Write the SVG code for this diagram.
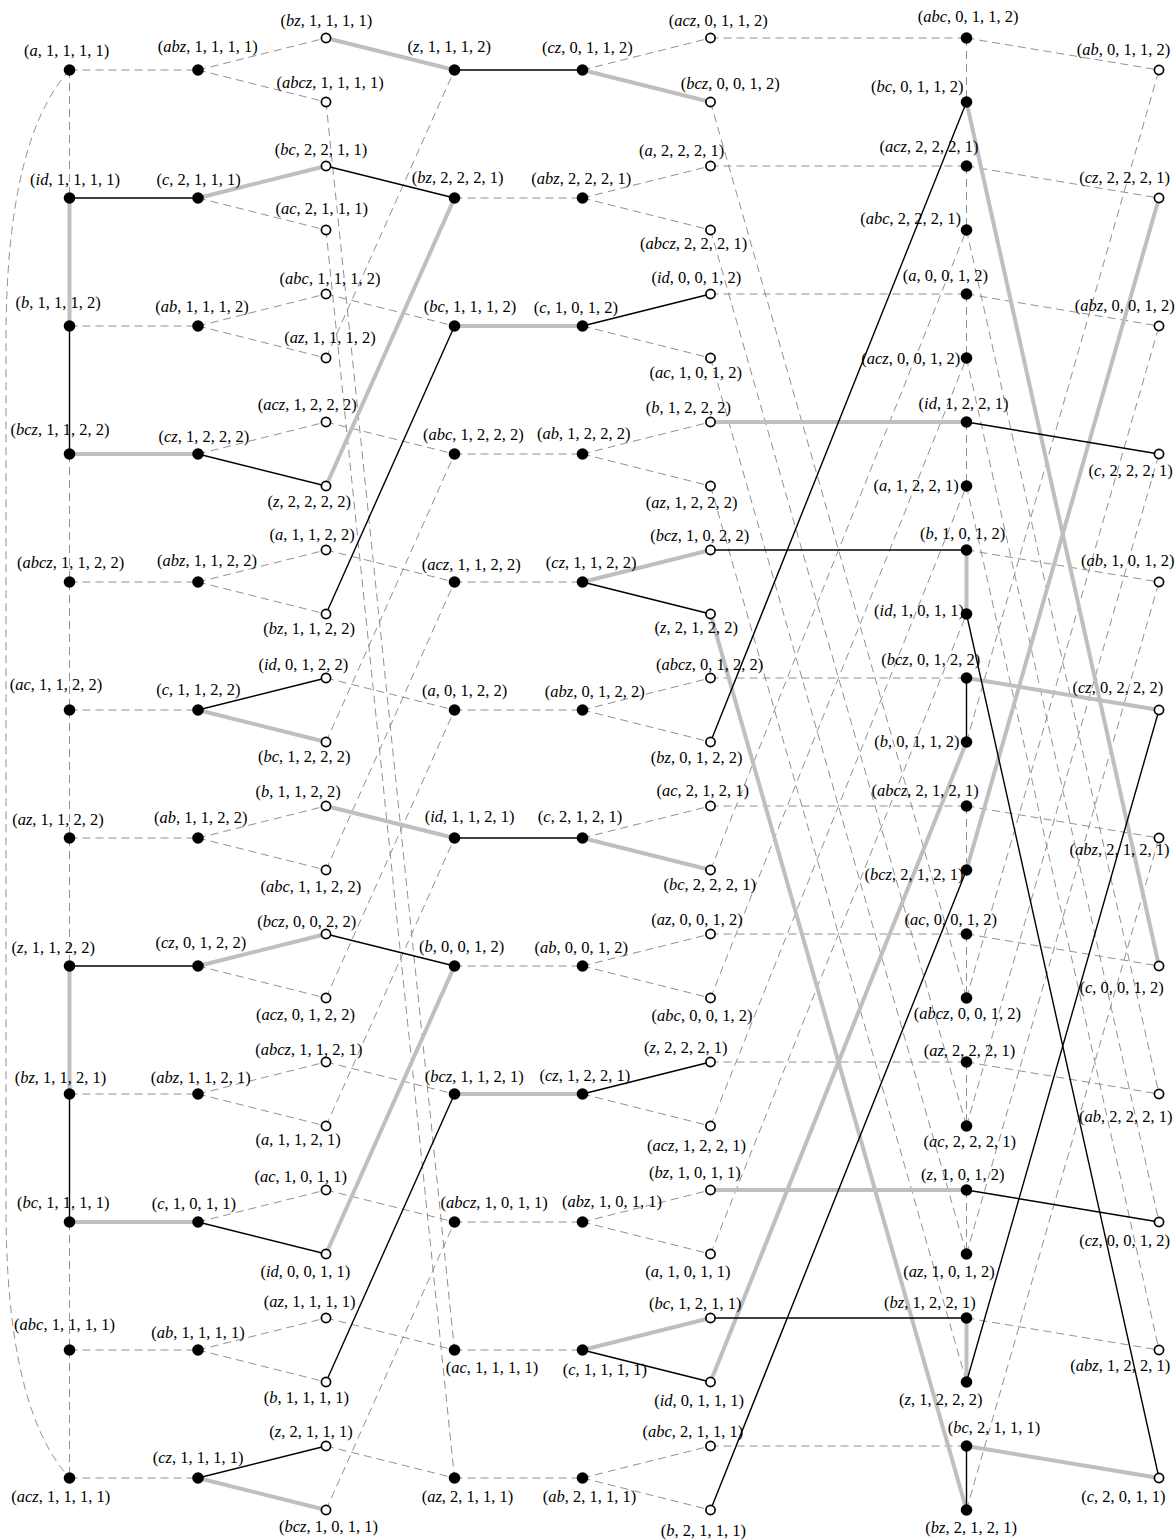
<svg xmlns="http://www.w3.org/2000/svg" width="1175" height="1540" viewBox="0 0 1175 1540">
<style>
.d line,.d path{stroke:#858585;stroke-width:0.9;stroke-dasharray:8 5;fill:none}
.t line{stroke:#bfbfbf;stroke-width:4;fill:none}
.s line{stroke:#000;stroke-width:1.4;fill:none}
.f{fill:#000}
.o{fill:#fff;stroke:#000;stroke-width:1.7}
text{font-family:"Liberation Serif","Times New Roman",serif;font-size:16.5px;text-anchor:middle;fill:#000}
.i{font-style:italic}
</style>
<rect width="1175" height="1540" fill="#fff"/>
<g id="connectors">
<g class="d">
<line x1="69.5" y1="70" x2="69.5" y2="198"/>
<line x1="69.5" y1="454" x2="69.5" y2="582"/>
<line x1="69.5" y1="582" x2="69.5" y2="710"/>
<line x1="69.5" y1="710" x2="69.5" y2="838"/>
<line x1="69.5" y1="838" x2="69.5" y2="966"/>
<line x1="69.5" y1="1222" x2="69.5" y2="1350"/>
<line x1="69.5" y1="1350" x2="69.5" y2="1478"/>
<path d="M69.5,70 Q6,140 6,340 L6,1208 Q6,1408 69.5,1478"/>
<line x1="69.5" y1="70" x2="198" y2="70"/>
<line x1="69.5" y1="326" x2="198" y2="326"/>
<line x1="69.5" y1="582" x2="198" y2="582"/>
<line x1="69.5" y1="710" x2="198" y2="710"/>
<line x1="69.5" y1="838" x2="198" y2="838"/>
<line x1="69.5" y1="1094" x2="198" y2="1094"/>
<line x1="69.5" y1="1350" x2="198" y2="1350"/>
<line x1="69.5" y1="1478" x2="198" y2="1478"/>
<line x1="198" y1="70" x2="326" y2="38"/>
<line x1="198" y1="326" x2="326" y2="294"/>
<line x1="198" y1="454" x2="326" y2="422"/>
<line x1="198" y1="582" x2="326" y2="550"/>
<line x1="198" y1="838" x2="326" y2="806"/>
<line x1="198" y1="1094" x2="326" y2="1062"/>
<line x1="198" y1="1222" x2="326" y2="1190"/>
<line x1="198" y1="1350" x2="326" y2="1318"/>
<line x1="198" y1="70" x2="326" y2="102"/>
<line x1="198" y1="198" x2="326" y2="230"/>
<line x1="198" y1="326" x2="326" y2="358"/>
<line x1="198" y1="582" x2="326" y2="614"/>
<line x1="198" y1="838" x2="326" y2="870"/>
<line x1="198" y1="966" x2="326" y2="998"/>
<line x1="198" y1="1094" x2="326" y2="1126"/>
<line x1="198" y1="1350" x2="326" y2="1382"/>
<line x1="326" y1="294" x2="454.5" y2="326"/>
<line x1="326" y1="422" x2="454.5" y2="454"/>
<line x1="326" y1="550" x2="454.5" y2="582"/>
<line x1="326" y1="678" x2="454.5" y2="710"/>
<line x1="326" y1="1062" x2="454.5" y2="1094"/>
<line x1="326" y1="1190" x2="454.5" y2="1222"/>
<line x1="326" y1="1318" x2="454.5" y2="1350"/>
<line x1="326" y1="1446" x2="454.5" y2="1478"/>
<line x1="326" y1="102" x2="454.5" y2="1350"/>
<line x1="326" y1="230" x2="454.5" y2="1478"/>
<line x1="326" y1="358" x2="454.5" y2="70"/>
<line x1="326" y1="742" x2="454.5" y2="454"/>
<line x1="326" y1="870" x2="454.5" y2="582"/>
<line x1="326" y1="998" x2="454.5" y2="710"/>
<line x1="326" y1="1126" x2="454.5" y2="838"/>
<line x1="326" y1="1510" x2="454.5" y2="1222"/>
<line x1="454.5" y1="198" x2="582.5" y2="198"/>
<line x1="454.5" y1="454" x2="582.5" y2="454"/>
<line x1="454.5" y1="582" x2="582.5" y2="582"/>
<line x1="454.5" y1="710" x2="582.5" y2="710"/>
<line x1="454.5" y1="966" x2="582.5" y2="966"/>
<line x1="454.5" y1="1222" x2="582.5" y2="1222"/>
<line x1="454.5" y1="1350" x2="582.5" y2="1350"/>
<line x1="454.5" y1="1478" x2="582.5" y2="1478"/>
<line x1="582.5" y1="70" x2="710.5" y2="38"/>
<line x1="582.5" y1="198" x2="710.5" y2="166"/>
<line x1="582.5" y1="454" x2="710.5" y2="422"/>
<line x1="582.5" y1="710" x2="710.5" y2="678"/>
<line x1="582.5" y1="838" x2="710.5" y2="806"/>
<line x1="582.5" y1="966" x2="710.5" y2="934"/>
<line x1="582.5" y1="1222" x2="710.5" y2="1190"/>
<line x1="582.5" y1="1478" x2="710.5" y2="1446"/>
<line x1="582.5" y1="198" x2="710.5" y2="230"/>
<line x1="582.5" y1="326" x2="710.5" y2="358"/>
<line x1="582.5" y1="454" x2="710.5" y2="486"/>
<line x1="582.5" y1="710" x2="710.5" y2="742"/>
<line x1="582.5" y1="966" x2="710.5" y2="998"/>
<line x1="582.5" y1="1094" x2="710.5" y2="1126"/>
<line x1="582.5" y1="1222" x2="710.5" y2="1254"/>
<line x1="582.5" y1="1478" x2="710.5" y2="1510"/>
<line x1="710.5" y1="38" x2="966.5" y2="38"/>
<line x1="710.5" y1="166" x2="966.5" y2="166"/>
<line x1="710.5" y1="294" x2="966.5" y2="294"/>
<line x1="710.5" y1="678" x2="966.5" y2="678"/>
<line x1="710.5" y1="806" x2="966.5" y2="806"/>
<line x1="710.5" y1="934" x2="966.5" y2="934"/>
<line x1="710.5" y1="1062" x2="966.5" y2="1062"/>
<line x1="710.5" y1="1446" x2="966.5" y2="1446"/>
<line x1="710.5" y1="102" x2="966.5" y2="998"/>
<line x1="710.5" y1="230" x2="966.5" y2="1126"/>
<line x1="710.5" y1="358" x2="966.5" y2="1254"/>
<line x1="710.5" y1="486" x2="966.5" y2="1382"/>
<line x1="710.5" y1="870" x2="966.5" y2="230"/>
<line x1="710.5" y1="998" x2="966.5" y2="358"/>
<line x1="710.5" y1="1126" x2="966.5" y2="486"/>
<line x1="710.5" y1="1254" x2="966.5" y2="614"/>
<line x1="966.5" y1="38" x2="966.5" y2="102"/>
<line x1="966.5" y1="166" x2="966.5" y2="230"/>
<line x1="966.5" y1="294" x2="966.5" y2="358"/>
<line x1="966.5" y1="422" x2="966.5" y2="486"/>
<line x1="966.5" y1="806" x2="966.5" y2="870"/>
<line x1="966.5" y1="934" x2="966.5" y2="998"/>
<line x1="966.5" y1="1062" x2="966.5" y2="1126"/>
<line x1="966.5" y1="1190" x2="966.5" y2="1254"/>
<line x1="966.5" y1="38" x2="1159" y2="70"/>
<line x1="966.5" y1="166" x2="1159" y2="198"/>
<line x1="966.5" y1="294" x2="1159" y2="326"/>
<line x1="966.5" y1="550" x2="1159" y2="582"/>
<line x1="966.5" y1="806" x2="1159" y2="838"/>
<line x1="966.5" y1="934" x2="1159" y2="966"/>
<line x1="966.5" y1="1062" x2="1159" y2="1094"/>
<line x1="966.5" y1="1318" x2="1159" y2="1350"/>
<line x1="966.5" y1="230" x2="1159" y2="1094"/>
<line x1="966.5" y1="358" x2="1159" y2="1222"/>
<line x1="966.5" y1="486" x2="1159" y2="1350"/>
<line x1="966.5" y1="742" x2="1159" y2="70"/>
<line x1="966.5" y1="998" x2="1159" y2="326"/>
<line x1="966.5" y1="1126" x2="1159" y2="454"/>
<line x1="966.5" y1="1254" x2="1159" y2="582"/>
<line x1="966.5" y1="1510" x2="1159" y2="838"/>
</g>
<g class="t">
<line x1="69.5" y1="198" x2="69.5" y2="326"/>
<line x1="69.5" y1="966" x2="69.5" y2="1094"/>
<line x1="69.5" y1="454" x2="198" y2="454"/>
<line x1="69.5" y1="1222" x2="198" y2="1222"/>
<line x1="198" y1="198" x2="326" y2="166"/>
<line x1="198" y1="966" x2="326" y2="934"/>
<line x1="198" y1="710" x2="326" y2="742"/>
<line x1="198" y1="1478" x2="326" y2="1510"/>
<line x1="326" y1="38" x2="454.5" y2="70"/>
<line x1="326" y1="806" x2="454.5" y2="838"/>
<line x1="326" y1="486" x2="454.5" y2="198"/>
<line x1="326" y1="1254" x2="454.5" y2="966"/>
<line x1="454.5" y1="326" x2="582.5" y2="326"/>
<line x1="454.5" y1="1094" x2="582.5" y2="1094"/>
<line x1="582.5" y1="582" x2="710.5" y2="550"/>
<line x1="582.5" y1="1350" x2="710.5" y2="1318"/>
<line x1="582.5" y1="70" x2="710.5" y2="102"/>
<line x1="582.5" y1="838" x2="710.5" y2="870"/>
<line x1="710.5" y1="422" x2="966.5" y2="422"/>
<line x1="710.5" y1="1190" x2="966.5" y2="1190"/>
<line x1="710.5" y1="614" x2="966.5" y2="1510"/>
<line x1="710.5" y1="1382" x2="966.5" y2="742"/>
<line x1="966.5" y1="550" x2="966.5" y2="614"/>
<line x1="966.5" y1="1318" x2="966.5" y2="1382"/>
<line x1="966.5" y1="678" x2="1159" y2="710"/>
<line x1="966.5" y1="1446" x2="1159" y2="1478"/>
<line x1="966.5" y1="102" x2="1159" y2="966"/>
<line x1="966.5" y1="870" x2="1159" y2="198"/>
</g>
<g class="s">
<line x1="69.5" y1="326" x2="69.5" y2="454"/>
<line x1="69.5" y1="1094" x2="69.5" y2="1222"/>
<line x1="69.5" y1="198" x2="198" y2="198"/>
<line x1="69.5" y1="966" x2="198" y2="966"/>
<line x1="198" y1="710" x2="326" y2="678"/>
<line x1="198" y1="1478" x2="326" y2="1446"/>
<line x1="198" y1="454" x2="326" y2="486"/>
<line x1="198" y1="1222" x2="326" y2="1254"/>
<line x1="326" y1="166" x2="454.5" y2="198"/>
<line x1="326" y1="934" x2="454.5" y2="966"/>
<line x1="326" y1="614" x2="454.5" y2="326"/>
<line x1="326" y1="1382" x2="454.5" y2="1094"/>
<line x1="454.5" y1="70" x2="582.5" y2="70"/>
<line x1="454.5" y1="838" x2="582.5" y2="838"/>
<line x1="582.5" y1="326" x2="710.5" y2="294"/>
<line x1="582.5" y1="1094" x2="710.5" y2="1062"/>
<line x1="582.5" y1="582" x2="710.5" y2="614"/>
<line x1="582.5" y1="1350" x2="710.5" y2="1382"/>
<line x1="710.5" y1="550" x2="966.5" y2="550"/>
<line x1="710.5" y1="1318" x2="966.5" y2="1318"/>
<line x1="710.5" y1="742" x2="966.5" y2="102"/>
<line x1="710.5" y1="1510" x2="966.5" y2="870"/>
<line x1="966.5" y1="678" x2="966.5" y2="742"/>
<line x1="966.5" y1="1446" x2="966.5" y2="1510"/>
<line x1="966.5" y1="422" x2="1159" y2="454"/>
<line x1="966.5" y1="1190" x2="1159" y2="1222"/>
<line x1="966.5" y1="614" x2="1159" y2="1478"/>
<line x1="966.5" y1="1382" x2="1159" y2="710"/>
</g>
</g>
<g id="nodes">
<g id="n0_0"><circle class="f" cx="69.5" cy="70" r="5.8"/><text x="66.7" y="56">(<tspan class="i">a</tspan>, 1, 1, 1, 1)</text></g>
<g id="n0_1"><circle class="f" cx="69.5" cy="198" r="5.8"/><text x="75" y="185">(<tspan class="i">id</tspan>, 1, 1, 1, 1)</text></g>
<g id="n0_2"><circle class="f" cx="69.5" cy="326" r="5.8"/><text x="58" y="308">(<tspan class="i">b</tspan>, 1, 1, 1, 2)</text></g>
<g id="n0_3"><circle class="f" cx="69.5" cy="454" r="5.8"/><text x="60" y="435">(<tspan class="i">bcz</tspan>, 1, 1, 2, 2)</text></g>
<g id="n0_4"><circle class="f" cx="69.5" cy="582" r="5.8"/><text x="70.5" y="567.7">(<tspan class="i">abcz</tspan>, 1, 1, 2, 2)</text></g>
<g id="n0_5"><circle class="f" cx="69.5" cy="710" r="5.8"/><text x="56" y="690">(<tspan class="i">ac</tspan>, 1, 1, 2, 2)</text></g>
<g id="n0_6"><circle class="f" cx="69.5" cy="838" r="5.8"/><text x="58" y="825">(<tspan class="i">az</tspan>, 1, 1, 2, 2)</text></g>
<g id="n0_7"><circle class="f" cx="69.5" cy="966" r="5.8"/><text x="53.3" y="952.7">(<tspan class="i">z</tspan>, 1, 1, 2, 2)</text></g>
<g id="n0_8"><circle class="f" cx="69.5" cy="1094" r="5.8"/><text x="60.5" y="1083.3">(<tspan class="i">bz</tspan>, 1, 1, 2, 1)</text></g>
<g id="n0_9"><circle class="f" cx="69.5" cy="1222" r="5.8"/><text x="63.3" y="1208.3">(<tspan class="i">bc</tspan>, 1, 1, 1, 1)</text></g>
<g id="n0_10"><circle class="f" cx="69.5" cy="1350" r="5.8"/><text x="64.5" y="1330">(<tspan class="i">abc</tspan>, 1, 1, 1, 1)</text></g>
<g id="n0_11"><circle class="f" cx="69.5" cy="1478" r="5.8"/><text x="60.7" y="1501.7">(<tspan class="i">acz</tspan>, 1, 1, 1, 1)</text></g>
<g id="n1_0"><circle class="f" cx="198" cy="70" r="5.8"/><text x="207.8" y="51.7">(<tspan class="i">abz</tspan>, 1, 1, 1, 1)</text></g>
<g id="n1_1"><circle class="f" cx="198" cy="198" r="5.8"/><text x="198.7" y="185">(<tspan class="i">c</tspan>, 2, 1, 1, 1)</text></g>
<g id="n1_2"><circle class="f" cx="198" cy="326" r="5.8"/><text x="202" y="311.7">(<tspan class="i">ab</tspan>, 1, 1, 1, 2)</text></g>
<g id="n1_3"><circle class="f" cx="198" cy="454" r="5.8"/><text x="203.8" y="442.3">(<tspan class="i">cz</tspan>, 1, 2, 2, 2)</text></g>
<g id="n1_4"><circle class="f" cx="198" cy="582" r="5.8"/><text x="207" y="566">(<tspan class="i">abz</tspan>, 1, 1, 2, 2)</text></g>
<g id="n1_5"><circle class="f" cx="198" cy="710" r="5.8"/><text x="198.3" y="695">(<tspan class="i">c</tspan>, 1, 1, 2, 2)</text></g>
<g id="n1_6"><circle class="f" cx="198" cy="838" r="5.8"/><text x="200.8" y="823.3">(<tspan class="i">ab</tspan>, 1, 1, 2, 2)</text></g>
<g id="n1_7"><circle class="f" cx="198" cy="966" r="5.8"/><text x="200.8" y="948.3">(<tspan class="i">cz</tspan>, 0, 1, 2, 2)</text></g>
<g id="n1_8"><circle class="f" cx="198" cy="1094" r="5.8"/><text x="200.7" y="1083.3">(<tspan class="i">abz</tspan>, 1, 1, 2, 1)</text></g>
<g id="n1_9"><circle class="f" cx="198" cy="1222" r="5.8"/><text x="193.8" y="1209">(<tspan class="i">c</tspan>, 1, 0, 1, 1)</text></g>
<g id="n1_10"><circle class="f" cx="198" cy="1350" r="5.8"/><text x="198" y="1337.7">(<tspan class="i">ab</tspan>, 1, 1, 1, 1)</text></g>
<g id="n1_11"><circle class="f" cx="198" cy="1478" r="5.8"/><text x="198" y="1463.3">(<tspan class="i">cz</tspan>, 1, 1, 1, 1)</text></g>
<g id="n2_0"><circle class="o" cx="326" cy="38" r="4.6"/><text x="326.3" y="26">(<tspan class="i">bz</tspan>, 1, 1, 1, 1)</text></g>
<g id="n2_1"><circle class="o" cx="326" cy="102" r="4.6"/><text x="330" y="88">(<tspan class="i">abcz</tspan>, 1, 1, 1, 1)</text></g>
<g id="n2_2"><circle class="o" cx="326" cy="166" r="4.6"/><text x="321" y="155">(<tspan class="i">bc</tspan>, 2, 2, 1, 1)</text></g>
<g id="n2_3"><circle class="o" cx="326" cy="230" r="4.6"/><text x="321.8" y="214">(<tspan class="i">ac</tspan>, 2, 1, 1, 1)</text></g>
<g id="n2_4"><circle class="o" cx="326" cy="294" r="4.6"/><text x="330" y="284">(<tspan class="i">abc</tspan>, 1, 1, 1, 2)</text></g>
<g id="n2_5"><circle class="o" cx="326" cy="358" r="4.6"/><text x="330" y="342.7">(<tspan class="i">az</tspan>, 1, 1, 1, 2)</text></g>
<g id="n2_6"><circle class="o" cx="326" cy="422" r="4.6"/><text x="307.3" y="410">(<tspan class="i">acz</tspan>, 1, 2, 2, 2)</text></g>
<g id="n2_7"><circle class="o" cx="326" cy="486" r="4.6"/><text x="309.3" y="506.7">(<tspan class="i">z</tspan>, 2, 2, 2, 2)</text></g>
<g id="n2_8"><circle class="o" cx="326" cy="550" r="4.6"/><text x="312.2" y="540.3">(<tspan class="i">a</tspan>, 1, 1, 2, 2)</text></g>
<g id="n2_9"><circle class="o" cx="326" cy="614" r="4.6"/><text x="309.2" y="634.3">(<tspan class="i">bz</tspan>, 1, 1, 2, 2)</text></g>
<g id="n2_10"><circle class="o" cx="326" cy="678" r="4.6"/><text x="303.3" y="670">(<tspan class="i">id</tspan>, 0, 1, 2, 2)</text></g>
<g id="n2_11"><circle class="o" cx="326" cy="742" r="4.6"/><text x="304.2" y="761.7">(<tspan class="i">bc</tspan>, 1, 2, 2, 2)</text></g>
<g id="n2_12"><circle class="o" cx="326" cy="806" r="4.6"/><text x="298" y="796.7">(<tspan class="i">b</tspan>, 1, 1, 2, 2)</text></g>
<g id="n2_13"><circle class="o" cx="326" cy="870" r="4.6"/><text x="310.8" y="891.7">(<tspan class="i">abc</tspan>, 1, 1, 2, 2)</text></g>
<g id="n2_14"><circle class="o" cx="326" cy="934" r="4.6"/><text x="306.7" y="927.3">(<tspan class="i">bcz</tspan>, 0, 0, 2, 2)</text></g>
<g id="n2_15"><circle class="o" cx="326" cy="998" r="4.6"/><text x="305.5" y="1020">(<tspan class="i">acz</tspan>, 0, 1, 2, 2)</text></g>
<g id="n2_16"><circle class="o" cx="326" cy="1062" r="4.6"/><text x="308.8" y="1055">(<tspan class="i">abcz</tspan>, 1, 1, 2, 1)</text></g>
<g id="n2_17"><circle class="o" cx="326" cy="1126" r="4.6"/><text x="298" y="1145">(<tspan class="i">a</tspan>, 1, 1, 2, 1)</text></g>
<g id="n2_18"><circle class="o" cx="326" cy="1190" r="4.6"/><text x="300.8" y="1181.7">(<tspan class="i">ac</tspan>, 1, 0, 1, 1)</text></g>
<g id="n2_19"><circle class="o" cx="326" cy="1254" r="4.6"/><text x="305.3" y="1276.7">(<tspan class="i">id</tspan>, 0, 0, 1, 1)</text></g>
<g id="n2_20"><circle class="o" cx="326" cy="1318" r="4.6"/><text x="309.7" y="1306.7">(<tspan class="i">az</tspan>, 1, 1, 1, 1)</text></g>
<g id="n2_21"><circle class="o" cx="326" cy="1382" r="4.6"/><text x="306.3" y="1403.3">(<tspan class="i">b</tspan>, 1, 1, 1, 1)</text></g>
<g id="n2_22"><circle class="o" cx="326" cy="1446" r="4.6"/><text x="311" y="1436.7">(<tspan class="i">z</tspan>, 2, 1, 1, 1)</text></g>
<g id="n2_23"><circle class="o" cx="326" cy="1510" r="4.6"/><text x="328.5" y="1531.7">(<tspan class="i">bcz</tspan>, 1, 0, 1, 1)</text></g>
<g id="n3_0"><circle class="f" cx="454.5" cy="70" r="5.8"/><text x="449.2" y="51.7">(<tspan class="i">z</tspan>, 1, 1, 1, 2)</text></g>
<g id="n3_1"><circle class="f" cx="454.5" cy="198" r="5.8"/><text x="457.7" y="183.3">(<tspan class="i">bz</tspan>, 2, 2, 2, 1)</text></g>
<g id="n3_2"><circle class="f" cx="454.5" cy="326" r="5.8"/><text x="470" y="312.3">(<tspan class="i">bc</tspan>, 1, 1, 1, 2)</text></g>
<g id="n3_3"><circle class="f" cx="454.5" cy="454" r="5.8"/><text x="473.3" y="440">(<tspan class="i">abc</tspan>, 1, 2, 2, 2)</text></g>
<g id="n3_4"><circle class="f" cx="454.5" cy="582" r="5.8"/><text x="471.3" y="570">(<tspan class="i">acz</tspan>, 1, 1, 2, 2)</text></g>
<g id="n3_5"><circle class="f" cx="454.5" cy="710" r="5.8"/><text x="464.5" y="695.7">(<tspan class="i">a</tspan>, 0, 1, 2, 2)</text></g>
<g id="n3_6"><circle class="f" cx="454.5" cy="838" r="5.8"/><text x="469.7" y="821.7">(<tspan class="i">id</tspan>, 1, 1, 2, 1)</text></g>
<g id="n3_7"><circle class="f" cx="454.5" cy="966" r="5.8"/><text x="461.7" y="951.7">(<tspan class="i">b</tspan>, 0, 0, 1, 2)</text></g>
<g id="n3_8"><circle class="f" cx="454.5" cy="1094" r="5.8"/><text x="474.2" y="1081.7">(<tspan class="i">bcz</tspan>, 1, 1, 2, 1)</text></g>
<g id="n3_9"><circle class="f" cx="454.5" cy="1222" r="5.8"/><text x="494.2" y="1208.3">(<tspan class="i">abcz</tspan>, 1, 0, 1, 1)</text></g>
<g id="n3_10"><circle class="f" cx="454.5" cy="1350" r="5.8"/><text x="492" y="1373.3">(<tspan class="i">ac</tspan>, 1, 1, 1, 1)</text></g>
<g id="n3_11"><circle class="f" cx="454.5" cy="1478" r="5.8"/><text x="467.5" y="1502.3">(<tspan class="i">az</tspan>, 2, 1, 1, 1)</text></g>
<g id="n4_0"><circle class="f" cx="582.5" cy="70" r="5.8"/><text x="587.3" y="53.3">(<tspan class="i">cz</tspan>, 0, 1, 1, 2)</text></g>
<g id="n4_1"><circle class="f" cx="582.5" cy="198" r="5.8"/><text x="581.3" y="184.3">(<tspan class="i">abz</tspan>, 2, 2, 2, 1)</text></g>
<g id="n4_2"><circle class="f" cx="582.5" cy="326" r="5.8"/><text x="575.8" y="312.7">(<tspan class="i">c</tspan>, 1, 0, 1, 2)</text></g>
<g id="n4_3"><circle class="f" cx="582.5" cy="454" r="5.8"/><text x="583.7" y="439.3">(<tspan class="i">ab</tspan>, 1, 2, 2, 2)</text></g>
<g id="n4_4"><circle class="f" cx="582.5" cy="582" r="5.8"/><text x="591.2" y="567.7">(<tspan class="i">cz</tspan>, 1, 1, 2, 2)</text></g>
<g id="n4_5"><circle class="f" cx="582.5" cy="710" r="5.8"/><text x="594.7" y="696.7">(<tspan class="i">abz</tspan>, 0, 1, 2, 2)</text></g>
<g id="n4_6"><circle class="f" cx="582.5" cy="838" r="5.8"/><text x="580" y="821.7">(<tspan class="i">c</tspan>, 2, 1, 2, 1)</text></g>
<g id="n4_7"><circle class="f" cx="582.5" cy="966" r="5.8"/><text x="581.2" y="953.3">(<tspan class="i">ab</tspan>, 0, 0, 1, 2)</text></g>
<g id="n4_8"><circle class="f" cx="582.5" cy="1094" r="5.8"/><text x="584.8" y="1080.7">(<tspan class="i">cz</tspan>, 1, 2, 2, 1)</text></g>
<g id="n4_9"><circle class="f" cx="582.5" cy="1222" r="5.8"/><text x="612" y="1206.7">(<tspan class="i">abz</tspan>, 1, 0, 1, 1)</text></g>
<g id="n4_10"><circle class="f" cx="582.5" cy="1350" r="5.8"/><text x="604.8" y="1375">(<tspan class="i">c</tspan>, 1, 1, 1, 1)</text></g>
<g id="n4_11"><circle class="f" cx="582.5" cy="1478" r="5.8"/><text x="589.5" y="1501.7">(<tspan class="i">ab</tspan>, 2, 1, 1, 1)</text></g>
<g id="n5_0"><circle class="o" cx="710.5" cy="38" r="4.6"/><text x="718.3" y="26">(<tspan class="i">acz</tspan>, 0, 1, 1, 2)</text></g>
<g id="n5_1"><circle class="o" cx="710.5" cy="102" r="4.6"/><text x="730.3" y="89.3">(<tspan class="i">bcz</tspan>, 0, 0, 1, 2)</text></g>
<g id="n5_2"><circle class="o" cx="710.5" cy="166" r="4.6"/><text x="681.5" y="156">(<tspan class="i">a</tspan>, 2, 2, 2, 1)</text></g>
<g id="n5_3"><circle class="o" cx="710.5" cy="230" r="4.6"/><text x="693.7" y="249.3">(<tspan class="i">abcz</tspan>, 2, 2, 2, 1)</text></g>
<g id="n5_4"><circle class="o" cx="710.5" cy="294" r="4.6"/><text x="696.3" y="283.3">(<tspan class="i">id</tspan>, 0, 0, 1, 2)</text></g>
<g id="n5_5"><circle class="o" cx="710.5" cy="358" r="4.6"/><text x="695.8" y="378.3">(<tspan class="i">ac</tspan>, 1, 0, 1, 2)</text></g>
<g id="n5_6"><circle class="o" cx="710.5" cy="422" r="4.6"/><text x="688.3" y="413.3">(<tspan class="i">b</tspan>, 1, 2, 2, 2)</text></g>
<g id="n5_7"><circle class="o" cx="710.5" cy="486" r="4.6"/><text x="691.7" y="508.3">(<tspan class="i">az</tspan>, 1, 2, 2, 2)</text></g>
<g id="n5_8"><circle class="o" cx="710.5" cy="550" r="4.6"/><text x="699.8" y="541">(<tspan class="i">bcz</tspan>, 1, 0, 2, 2)</text></g>
<g id="n5_9"><circle class="o" cx="710.5" cy="614" r="4.6"/><text x="696.3" y="633.3">(<tspan class="i">z</tspan>, 2, 1, 2, 2)</text></g>
<g id="n5_10"><circle class="o" cx="710.5" cy="678" r="4.6"/><text x="709.5" y="670">(<tspan class="i">abcz</tspan>, 0, 1, 2, 2)</text></g>
<g id="n5_11"><circle class="o" cx="710.5" cy="742" r="4.6"/><text x="696.7" y="763.3">(<tspan class="i">bz</tspan>, 0, 1, 2, 2)</text></g>
<g id="n5_12"><circle class="o" cx="710.5" cy="806" r="4.6"/><text x="702.8" y="796">(<tspan class="i">ac</tspan>, 2, 1, 2, 1)</text></g>
<g id="n5_13"><circle class="o" cx="710.5" cy="870" r="4.6"/><text x="709.7" y="890">(<tspan class="i">bc</tspan>, 2, 2, 2, 1)</text></g>
<g id="n5_14"><circle class="o" cx="710.5" cy="934" r="4.6"/><text x="697" y="925">(<tspan class="i">az</tspan>, 0, 0, 1, 2)</text></g>
<g id="n5_15"><circle class="o" cx="710.5" cy="998" r="4.6"/><text x="702" y="1020.7">(<tspan class="i">abc</tspan>, 0, 0, 1, 2)</text></g>
<g id="n5_16"><circle class="o" cx="710.5" cy="1062" r="4.6"/><text x="685.8" y="1052.7">(<tspan class="i">z</tspan>, 2, 2, 2, 1)</text></g>
<g id="n5_17"><circle class="o" cx="710.5" cy="1126" r="4.6"/><text x="696.5" y="1150.7">(<tspan class="i">acz</tspan>, 1, 2, 2, 1)</text></g>
<g id="n5_18"><circle class="o" cx="710.5" cy="1190" r="4.6"/><text x="694.8" y="1178.3">(<tspan class="i">bz</tspan>, 1, 0, 1, 1)</text></g>
<g id="n5_19"><circle class="o" cx="710.5" cy="1254" r="4.6"/><text x="687.8" y="1276.7">(<tspan class="i">a</tspan>, 1, 0, 1, 1)</text></g>
<g id="n5_20"><circle class="o" cx="710.5" cy="1318" r="4.6"/><text x="695.3" y="1309">(<tspan class="i">bc</tspan>, 1, 2, 1, 1)</text></g>
<g id="n5_21"><circle class="o" cx="710.5" cy="1382" r="4.6"/><text x="699.2" y="1405.7">(<tspan class="i">id</tspan>, 0, 1, 1, 1)</text></g>
<g id="n5_22"><circle class="o" cx="710.5" cy="1446" r="4.6"/><text x="692.8" y="1436.7">(<tspan class="i">abc</tspan>, 2, 1, 1, 1)</text></g>
<g id="n5_23"><circle class="o" cx="710.5" cy="1510" r="4.6"/><text x="703.3" y="1535.7">(<tspan class="i">b</tspan>, 2, 1, 1, 1)</text></g>
<g id="n6_0"><circle class="f" cx="966.5" cy="38" r="5.8"/><text x="968.2" y="21.7">(<tspan class="i">abc</tspan>, 0, 1, 1, 2)</text></g>
<g id="n6_1"><circle class="f" cx="966.5" cy="102" r="5.8"/><text x="917.3" y="91.7">(<tspan class="i">bc</tspan>, 0, 1, 1, 2)</text></g>
<g id="n6_2"><circle class="f" cx="966.5" cy="166" r="5.8"/><text x="929" y="151.7">(<tspan class="i">acz</tspan>, 2, 2, 2, 1)</text></g>
<g id="n6_3"><circle class="f" cx="966.5" cy="230" r="5.8"/><text x="910.7" y="224">(<tspan class="i">abc</tspan>, 2, 2, 2, 1)</text></g>
<g id="n6_4"><circle class="f" cx="966.5" cy="294" r="5.8"/><text x="945.3" y="280.7">(<tspan class="i">a</tspan>, 0, 0, 1, 2)</text></g>
<g id="n6_5"><circle class="f" cx="966.5" cy="358" r="5.8"/><text x="910.7" y="364">(<tspan class="i">acz</tspan>, 0, 0, 1, 2)</text></g>
<g id="n6_6"><circle class="f" cx="966.5" cy="422" r="5.8"/><text x="963.5" y="409">(<tspan class="i">id</tspan>, 1, 2, 2, 1)</text></g>
<g id="n6_7"><circle class="f" cx="966.5" cy="486" r="5.8"/><text x="916" y="491">(<tspan class="i">a</tspan>, 1, 2, 2, 1)</text></g>
<g id="n6_8"><circle class="f" cx="966.5" cy="550" r="5.8"/><text x="962.7" y="539">(<tspan class="i">b</tspan>, 1, 0, 1, 2)</text></g>
<g id="n6_9"><circle class="f" cx="966.5" cy="614" r="5.8"/><text x="919" y="616">(<tspan class="i">id</tspan>, 1, 0, 1, 1)</text></g>
<g id="n6_10"><circle class="f" cx="966.5" cy="678" r="5.8"/><text x="930.7" y="665">(<tspan class="i">bcz</tspan>, 0, 1, 2, 2)</text></g>
<g id="n6_11"><circle class="f" cx="966.5" cy="742" r="5.8"/><text x="916.8" y="746.7">(<tspan class="i">b</tspan>, 0, 1, 1, 2)</text></g>
<g id="n6_12"><circle class="f" cx="966.5" cy="806" r="5.8"/><text x="925.2" y="796">(<tspan class="i">abcz</tspan>, 2, 1, 2, 1)</text></g>
<g id="n6_13"><circle class="f" cx="966.5" cy="870" r="5.8"/><text x="914" y="880">(<tspan class="i">bcz</tspan>, 2, 1, 2, 1)</text></g>
<g id="n6_14"><circle class="f" cx="966.5" cy="934" r="5.8"/><text x="950.7" y="925">(<tspan class="i">ac</tspan>, 0, 0, 1, 2)</text></g>
<g id="n6_15"><circle class="f" cx="966.5" cy="998" r="5.8"/><text x="967.3" y="1019.3">(<tspan class="i">abcz</tspan>, 0, 0, 1, 2)</text></g>
<g id="n6_16"><circle class="f" cx="966.5" cy="1062" r="5.8"/><text x="969.5" y="1056">(<tspan class="i">az</tspan>, 2, 2, 2, 1)</text></g>
<g id="n6_17"><circle class="f" cx="966.5" cy="1126" r="5.8"/><text x="969.8" y="1146.7">(<tspan class="i">ac</tspan>, 2, 2, 2, 1)</text></g>
<g id="n6_18"><circle class="f" cx="966.5" cy="1190" r="5.8"/><text x="962.7" y="1180">(<tspan class="i">z</tspan>, 1, 0, 1, 2)</text></g>
<g id="n6_19"><circle class="f" cx="966.5" cy="1254" r="5.8"/><text x="949" y="1276.7">(<tspan class="i">az</tspan>, 1, 0, 1, 2)</text></g>
<g id="n6_20"><circle class="f" cx="966.5" cy="1318" r="5.8"/><text x="929.8" y="1307.7">(<tspan class="i">bz</tspan>, 1, 2, 2, 1)</text></g>
<g id="n6_21"><circle class="f" cx="966.5" cy="1382" r="5.8"/><text x="940.7" y="1405">(<tspan class="i">z</tspan>, 1, 2, 2, 2)</text></g>
<g id="n6_22"><circle class="f" cx="966.5" cy="1446" r="5.8"/><text x="994" y="1433.3">(<tspan class="i">bc</tspan>, 2, 1, 1, 1)</text></g>
<g id="n6_23"><circle class="f" cx="966.5" cy="1510" r="5.8"/><text x="971.2" y="1533.3">(<tspan class="i">bz</tspan>, 2, 1, 2, 1)</text></g>
<g id="n7_0"><circle class="o" cx="1159" cy="70" r="4.6"/><text x="1123.5" y="55">(<tspan class="i">ab</tspan>, 0, 1, 1, 2)</text></g>
<g id="n7_1"><circle class="o" cx="1159" cy="198" r="4.6"/><text x="1124.5" y="183.3">(<tspan class="i">cz</tspan>, 2, 2, 2, 1)</text></g>
<g id="n7_2"><circle class="o" cx="1159" cy="326" r="4.6"/><text x="1124.8" y="310.7">(<tspan class="i">abz</tspan>, 0, 0, 1, 2)</text></g>
<g id="n7_3"><circle class="o" cx="1159" cy="454" r="4.6"/><text x="1130.7" y="475.7">(<tspan class="i">c</tspan>, 2, 2, 2, 1)</text></g>
<g id="n7_4"><circle class="o" cx="1159" cy="582" r="4.6"/><text x="1127.8" y="565.7">(<tspan class="i">ab</tspan>, 1, 0, 1, 2)</text></g>
<g id="n7_5"><circle class="o" cx="1159" cy="710" r="4.6"/><text x="1117.8" y="693.3">(<tspan class="i">cz</tspan>, 0, 2, 2, 2)</text></g>
<g id="n7_6"><circle class="o" cx="1159" cy="838" r="4.6"/><text x="1119.5" y="855">(<tspan class="i">abz</tspan>, 2, 1, 2, 1)</text></g>
<g id="n7_7"><circle class="o" cx="1159" cy="966" r="4.6"/><text x="1121.7" y="992.7">(<tspan class="i">c</tspan>, 0, 0, 1, 2)</text></g>
<g id="n7_8"><circle class="o" cx="1159" cy="1094" r="4.6"/><text x="1125.7" y="1121.7">(<tspan class="i">ab</tspan>, 2, 2, 2, 1)</text></g>
<g id="n7_9"><circle class="o" cx="1159" cy="1222" r="4.6"/><text x="1124.5" y="1245.7">(<tspan class="i">cz</tspan>, 0, 0, 1, 2)</text></g>
<g id="n7_10"><circle class="o" cx="1159" cy="1350" r="4.6"/><text x="1120.3" y="1371">(<tspan class="i">abz</tspan>, 1, 2, 2, 1)</text></g>
<g id="n7_11"><circle class="o" cx="1159" cy="1478" r="4.6"/><text x="1123.3" y="1501.7">(<tspan class="i">c</tspan>, 2, 0, 1, 1)</text></g>
</g>
</svg>
